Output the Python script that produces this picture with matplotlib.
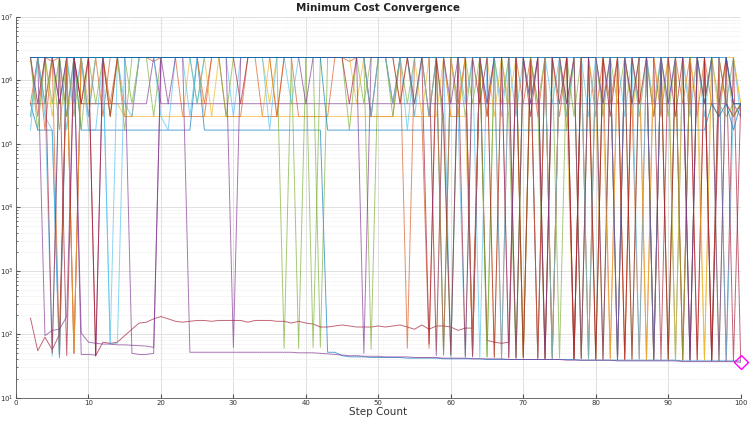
import matplotlib
matplotlib.use("Agg")
import matplotlib.pyplot as plt
from matplotlib.ticker import LogLocator, NullFormatter, FixedLocator

# level constants (cost values)
H = 2.3e6
G = 2.0e6
A = 4.3e5
B = 2.7e5
C = 1.65e5

steps = list(range(2, 101))

s01 = [A, C, C, C, 43, H, H, C, C, C,
       C, C, C, C, C, C, C, C, C, C,
       C, C, C, H, C, C, C, C, C, C,
       C, C, C, C, C, C, C, C, C, C,
       C, 52, 52, 46, 44, 44, 44, 43, 43, 43,
       43, 43, 42, 42, 42, 42, 42, 41, 41, 41,
       41, 41, 41, 40, 40, 40, 40, 40, 40, 40,
       40, 40, 40, 40, 40, 40, 39, 39, 39, 39,
       39, 39, 39, 39, 39, 39, 39, 39, 39, 39,
       38, 38, 38, 38, 38, 38, 38, 38, 38]
s02 = [H, B, H, G, H, B, H, A, H, H,
       B, H, H, B, B, H, H, G, H, H,
       H, B, B, B, B, H, H, B, B, B,
       H, H, B, B, B, H, H, B, B, B,
       B, B, H, H, G, H, H, B, B, B,
       B, H, H, B, B, 60, H, H, B, B,
       H, 48, H, B, H, 42, H, H, 45, H,
       B, H, 44, H, A, H, 43, H, B, H,
       42, H, H, A, 41, H, B, H, 41, H,
       A, H, 40, H, A, B, H, A, B]
s03 = [H, H, A, A, A, A, A, A, A, A,
       A, A, A, B, B, B, B, B, B, B,
       B, B, H, H, B, B, B, B, B, B,
       B, B, B, H, B, B, B, B, B, B,
       B, B, B, B, B, B, B, B, B, B,
       B, B, B, B, B, B, B, H, B, B,
       B, 60, H, H, 44, H, A, H, 43, H,
       H, 42, H, H, B, 42, H, H, A, 41,
       H, H, 41, H, B, H, 40, H, H, 40,
       H, A, H, 40, H, H, A, H, A]
s04 = [A, A, A, H, A, H, H, A, A, A,
       A, A, A, A, A, A, A, H, A, A,
       A, A, A, A, A, A, A, A, A, A,
       A, A, A, A, A, A, A, A, A, A,
       A, A, A, A, A, A, A, A, A, A,
       A, A, A, A, A, A, A, A, A, A,
       A, A, A, A, A, A, A, A, A, A,
       A, A, A, A, A, A, A, A, A, A,
       A, A, A, A, A, A, A, A, A, A,
       A, A, A, A, A, A, A, B, A]
s05 = [B, H, A, H, C, H, B, H, H, A,
       H, B, H, H, A, H, H, B, H, H,
       H, H, H, A, H, H, H, H, H, H,
       H, H, H, H, H, 60, H, 60, H, H,
       62, H, H, H, H, H, A, H, H, H,
       H, H, A, H, H, B, H, 55, H, H,
       B, H, H, 44, H, A, H, H, 43, H,
       A, H, H, 42, H, B, H, H, 41, H,
       H, A, H, 41, H, H, B, H, 40, H,
       H, 40, H, A, H, A, B, A, A]
s06 = [C, H, B, C, 42, H, A, H, C, C,
       H, 70, H, A, B, H, H, H, B, C,
       H, H, B, H, H, H, H, H, B, H,
       H, H, H, H, H, H, A, H, H, H,
       H, H, H, H, H, H, H, B, H, H,
       A, H, H, B, H, H, H, 46, H, B,
       42, H, H, A, H, 42, H, B, H, H,
       41, H, A, H, H, 41, H, B, H, 40,
       H, H, B, H, 40, H, A, H, H, 40,
       H, B, H, H, 39, H, A, H, B]
s07 = [180, 55, 90, 57, 100, H, 50, H, H, 46,
       75, 72, 75, 95, 120, 150, 155, 175, 190, 175,
       160, 155, 160, 165, 165, 160, 165, 165, 165, 165,
       155, 165, 165, 165, 160, 160, 150, 160, 150, 145,
       130, 130, 135, 140, 135, 130, 130, 130, 135, 130,
       135, 140, 130, 120, 140, 120, 135, 135, 130, 115,
       125, 125, H, 80, 75, 72, 75, H, 42, H,
       42, H, 41, H, H, 41, H, 41, H, 40,
       H, 40, H, 40, H, H, 40, H, 40, H,
       39, H, 39, H, 38, H, 38, H, 38]
s08 = [H] * 97 + [A, A]
s09 = [A, H, C, H, 48, H, 50, H, B, H,
       H, A, H, H, H, H, H, H, H, H,
       H, H, H, H, A, H, H, H, H, H,
       H, H, H, H, B, H, H, H, H, H,
       H, H, H, H, H, H, H, B, H, H,
       A, H, 60, H, H, B, H, 48, H, A,
       H, 45, H, B, H, H, 43, H, A, H,
       42, H, H, B, H, 41, H, H, 41, H,
       A, H, 40, H, H, 40, H, B, H, H,
       40, H, B, H, 39, H, A, B, A]
s10 = [H, A, H, B, H, H, 52, H, A, H,
       H, B, H, H, H, H, H, H, H, H,
       H, H, H, H, H, B, H, H, H, H,
       H, H, H, A, H, H, H, H, H, H,
       H, H, H, H, H, A, H, H, H, H,
       H, A, H, H, B, H, 55, H, H, B,
       H, 46, H, H, B, H, H, 43, H, A,
       H, H, 42, H, B, H, H, 41, H, A,
       41, H, H, B, H, 40, H, A, H, 40,
       H, H, A, 39, H, B, H, H, A]
s11 = [H, H, 95, 115, 120, 190, H, 48, 48, 47,
       H, H, H, H, 50, 48, 48, 50, H, H,
       H, H, 52, 52, 52, 52, 52, 52, 52, 52,
       52, 52, 52, 52, 52, 52, 52, 51, 51, 51,
       50, 49, 48, 47, 46, 46, 45, 45, 45, 44,
       44, 44, 44, 43, 43, 43, 43, 42, 42, 42,
       42, 41, 41, 41, 41, 41, 40, 40, 40, 40,
       40, 40, 40, 40, 39, 39, 39, 39, 39, 39,
       39, 38, 38, 38, 38, 38, 38, 38, 38, 38,
       37, 37, 37, 37, 37, 37, 37, 37, 36]
s12 = [H, C, H, A, H, B, H, C, H, H,
       H, H, H, C, H, H, H, H, H, H,
       H, H, H, H, H, H, H, B, H, H,
       H, H, H, H, H, H, H, H, H, 62,
       H, H, H, H, C, H, H, 58, H, H,
       B, H, H, A, H, H, H, C, 45, H,
       H, A, H, 44, H, H, B, 42, H, H,
       A, 41, H, H, C, H, 41, H, H, B,
       H, 40, H, A, H, H, 40, H, B, H,
       39, H, H, A, H, 38, H, B, A]
s13 = [B, H, A, 45, H, C, H, H, B, H,
       H, 70, 72, H, H, H, H, H, H, H,
       H, H, H, A, H, H, H, H, H, H,
       H, H, H, C, H, H, H, H, H, H,
       H, H, H, H, H, H, H, B, H, H,
       A, H, C, H, H, B, H, H, 44, H,
       A, H, 43, H, H, B, H, 42, H, A,
       H, H, 41, H, B, H, H, 41, H, A,
       H, 40, H, H, B, H, 40, H, A, H,
       H, 39, H, B, H, H, 39, A, B]
s14 = [H, H, H, 50, H, 46, H, A, H, 45,
       H, B, H, H, H, H, H, H, H, H,
       H, H, H, H, H, H, H, H, H, A,
       H, H, H, H, H, H, H, H, H, H,
       H, H, H, H, A, H, H, H, H, H,
       H, A, H, H, H, 70, H, B, 48, H,
       45, H, A, H, 43, H, H, 42, H, B,
       H, 41, H, A, H, 41, H, H, 40, H,
       B, H, 40, H, A, H, H, 40, H, B,
       H, 39, H, H, 39, A, H, 38, A]
s15 = [H, A, H, H, A, H, H, 105, 75, 72,
       70, 70, 68, 68, 67, 66, 65, 62, H, A,
       H, H, H, H, H, H, H, H, 62, H,
       H, H, H, H, H, H, H, H, A, H,
       H, H, H, H, H, H, 50, H, H, H,
       H, H, H, A, H, H, 46, H, A, H,
       H, 44, H, A, H, H, 42, H, H, A,
       H, 41, H, H, A, H, 41, H, H, A,
       H, 40, H, A, H, H, 40, H, A, H,
       H, 39, H, A, H, 38, H, A, A]
s16 = [H] * 41 + [C] * 53 + [A, B, A, C, A]

series = [s01, s02, s03, s04, s05, s06, s07, s09, s10, s11, s12, s13, s14, s15, s16, s08]
colors = ["#0072BD", "#D95319", "#EDB120", "#7E2F8E", "#77AC30", "#4DBEEE", "#A2142F",
          "#D95319", "#EDB120", "#7E2F8E", "#77AC30", "#4DBEEE", "#A2142F",
          "#7E2F8E", "#0072BD", "#0072BD"]

best_step = [100]
best_cost = [36]

fig = plt.figure(figsize=(7.5, 4.22), dpi=100)
ax = fig.add_axes([0.0213, 0.0576, 0.9663, 0.9021])

for s, c in zip(series, colors):
    ax.plot(steps, s, color=c, lw=0.7, alpha=0.65)

ax.plot(best_step, best_cost, marker="D", markersize=7, markerfacecolor="none",
        markeredgecolor="#FF00FF", markeredgewidth=1.0, linestyle="none", clip_on=False)

ax.set_yscale("log")
ax.set_ylim(10, 1e7)
ax.set_xlim(0, 100)
ax.xaxis.set_major_locator(FixedLocator(list(range(0, 101, 10))))
ax.yaxis.set_major_locator(LogLocator(base=10, numticks=10))
ax.yaxis.set_minor_locator(LogLocator(base=10, subs=range(2, 10), numticks=100))
ax.yaxis.set_minor_formatter(NullFormatter())

ax.grid(True, which="major", color="#dcdcdc", lw=0.6)
ax.grid(True, which="minor", axis="y", color="#dcdcdc", lw=0.5, linestyle=(0, (1, 2)))
ax.set_axisbelow(True)

for sp in ["top", "right"]:
    ax.spines[sp].set_visible(False)
for sp in ["left", "bottom"]:
    ax.spines[sp].set_color("#555555")
    ax.spines[sp].set_linewidth(0.6)

ax.tick_params(axis="both", which="both", direction="in", colors="#555555", labelsize=5,
               labelcolor="#333333", pad=1.5)
ax.tick_params(axis="both", which="major", length=3)
ax.tick_params(axis="y", which="minor", length=1.5)

ax.set_title("Minimum Cost Convergence", fontsize=7.5, fontweight="bold", pad=4, color="#222222")
ax.set_xlabel("Step Count", fontsize=7.5, labelpad=1, color="#333333")

fig.savefig("out.png", dpi=100)
